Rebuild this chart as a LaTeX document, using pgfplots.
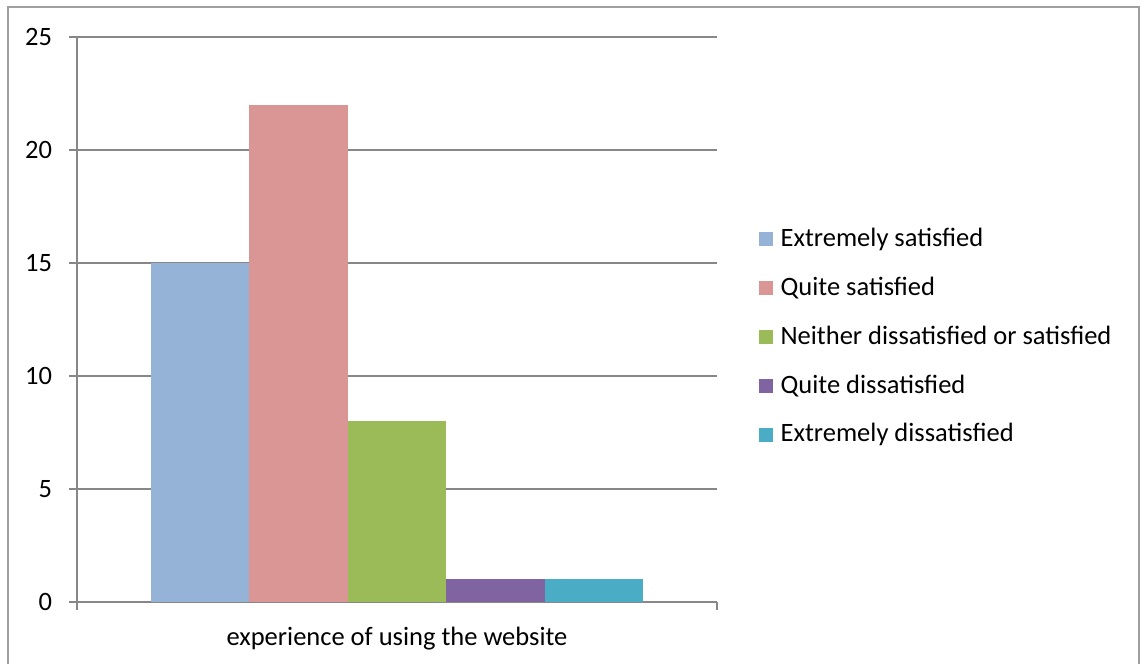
\documentclass[border=0pt]{standalone}
\usepackage{pgfplots}
\pgfplotsset{compat=1.18}
\usepackage{fontspec}
\setmainfont{Carlito}
\definecolor{c1}{HTML}{95B3D7}
\definecolor{c2}{HTML}{D99694}
\definecolor{c3}{HTML}{9BBB59}
\definecolor{c4}{HTML}{8064A2}
\definecolor{c5}{HTML}{4BACC6}
\definecolor{axgray}{HTML}{878787}
\begin{document}
\fontsize{26.5}{31}\selectfont
\begin{tikzpicture}[x=1pt,y=1pt]
\useasboundingbox (0,0) rectangle (1144,664);
\draw[color=axgray!80, line width=1.5pt] (8,-10) rectangle (1139,657);
\begin{axis}[
  at={(77pt,62pt)}, anchor=south west,
  scale only axis, width=640pt, height=565pt,
  xmin=-0.5, xmax=0.5, ymin=0, ymax=25,
  ybar=0pt, bar width=98.5pt,
  axis x line*=bottom, axis y line*=left,
  axis line style={axgray, line width=1.3pt, -},
  ytick={0,5,...,25},
  ymajorgrids, grid style={axgray, line width=1.3pt},
  xtick={-0.5,0.5}, xticklabels={},
  extra x ticks={0}, extra x tick labels={experience of using the website},
  extra x tick style={major tick length=0pt, grid=none, xticklabel style={yshift=-16pt}},
  tick align=outside, major tick length=8pt,
  tick style={axgray, line width=1.3pt},
  /pgf/number format/assume math mode=true,
  ticklabel style={font=\fontsize{26.5}{31}\selectfont},
  yticklabel style={xshift=-8pt},
  legend style={at={(1.06,0.469)}, anchor=west, draw=none, fill=none,
    font=\fontsize{26.5}{31}\selectfont, row sep=22.5pt,
    /tikz/every odd column/.append style={column sep=6pt}},
  legend cell align=left,
  legend image code/.code={\fill[#1] (0pt,-7pt) rectangle (14pt,7pt);},
  clip=false,
]
\addplot[fill=c1, draw=none] coordinates {(0,15)};
\addplot[fill=c2, draw=none] coordinates {(0,22)};
\addplot[fill=c3, draw=none] coordinates {(0,8)};
\addplot[fill=c4, draw=none] coordinates {(0,1)};
\addplot[fill=c5, draw=none] coordinates {(0,1)};
\legend{Extremely satisfied, Quite satisfied, Neither dissatisfied or satisfied, Quite dissatisfied, Extremely dissatisfied}
\end{axis}
\end{tikzpicture}
\end{document}
